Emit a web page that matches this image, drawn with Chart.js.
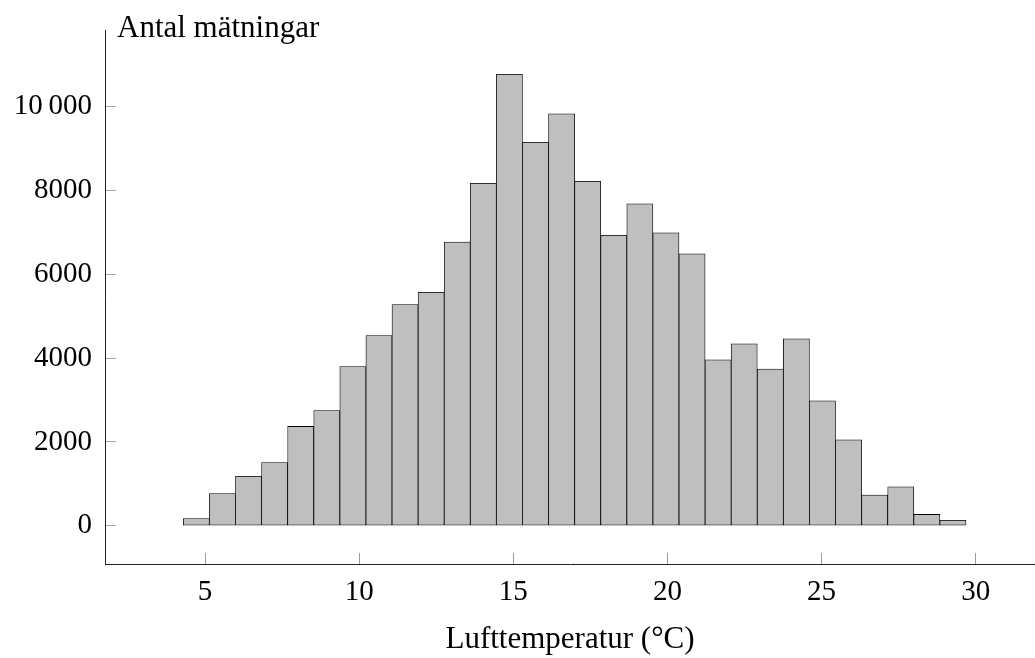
<!DOCTYPE html>
<html lang="sv">
<head>
<meta charset="utf-8">
<title>Lufttemperatur</title>
<script src="https://cdn.jsdelivr.net/npm/chart.js@4.4.1/dist/chart.umd.min.js"></script>
<style>
  html, body { margin: 0; padding: 0; background: #fff; }
  #wrap { width: 1035px; height: 658px; position: relative; }
</style>
</head>
<body>
<div id="wrap"><canvas id="chart"></canvas></div>
<script>
// histogram bins, about 0.846 °C wide, given by their centres
const binCenters = [4.719, 5.565, 6.412, 7.258, 8.104, 8.951, 9.797, 10.643, 11.489, 12.336,
                    13.182, 14.028, 14.875, 15.721, 16.567, 17.414, 18.260, 19.106, 19.952, 20.799,
                    21.645, 22.491, 23.338, 24.184, 25.030, 25.877, 26.723, 27.569, 28.415, 29.262];
const counts = [170, 770, 1180, 1510, 2370, 2750, 3800, 4540, 5280, 5570,
                6770, 8170, 10770, 9150, 9830, 8220, 6930, 7680, 6990, 6490,
                3960, 4340, 3740, 4460, 2980, 2050, 730, 930, 270, 130];

const xTicks = [5, 10, 15, 20, 25, 30];
const yTicks = [0, 2000, 4000, 6000, 8000, 10000];
const xTitle = 'Lufttemperatur (°C)';
const yTitle = 'Antal mätningar';

const FONT = '"Liberation Serif", "Times New Roman", serif';
Chart.defaults.font.family = FONT;
Chart.defaults.font.size = 29;
Chart.defaults.color = '#000';

// y title sits horizontally at the top of the axis, not rotated
const yTitlePlugin = {
  id: 'yTitleTop',
  afterDraw(chart) {
    const { ctx, chartArea } = chart;
    ctx.save();
    ctx.font = '31px ' + FONT;
    ctx.fillStyle = '#000';
    ctx.textAlign = 'left';
    ctx.textBaseline = 'alphabetic';
    ctx.fillText(yTitle, chartArea.left + 12, chartArea.top + 7);
    ctx.restore();
  }
};

function fmt(v) {
  // thousands separator only from five digits up
  return v >= 10000 ? String(v).replace(/\B(?=(\d{3})+(?!\d))/g, '\u2009') : String(v);
}

const ctx = document.getElementById('chart').getContext('2d');
new Chart(ctx, {
  type: 'bar',
  data: {
    datasets: [{
      data: binCenters.map((x, i) => ({ x: x, y: counts[i] })),
      backgroundColor: '#bfbfbf',
      borderColor: '#000',
      borderWidth: 0.8,
      borderSkipped: false,
      barPercentage: 1,
      categoryPercentage: 1
    }]
  },
  options: {
    responsive: true,
    maintainAspectRatio: false,
    animation: false,
    layout: { padding: { top: 30, right: 0, bottom: 0, left: 0 } },
    plugins: { legend: { display: false }, tooltip: { enabled: false } },
    scales: {
      x: {
        type: 'linear',
        min: 1.756,
        max: 31.924,
        offset: false,
        afterBuildTicks: s => { s.ticks = xTicks.map(v => ({ value: v })); },
        afterFit: s => { s.height = 94; s.paddingLeft = 0; s.paddingRight = 0; },
        grid: { offset: false, drawOnChartArea: false, drawTicks: true, tickLength: -11, tickColor: '#999', tickWidth: 1 },
        border: { display: true, color: '#222', width: 1 },
        ticks: { padding: 22, maxRotation: 0, autoSkip: false, font: { size: 29 } },
        title: { display: true, text: xTitle, font: { size: 31 }, padding: { top: 0, bottom: 0 } }
      },
      y: {
        min: -913,
        max: 11829,
        afterBuildTicks: s => { s.ticks = yTicks.map(v => ({ value: v })); },
        afterFit: s => { s.width = 105; s.paddingTop = 0; s.paddingBottom = 0; },
        grid: { drawOnChartArea: false, drawTicks: true, tickLength: -11, tickColor: '#aaa', tickWidth: 1 },
        border: { display: true, color: '#222', width: 1 },
        ticks: { padding: 24, font: { size: 29 }, callback: v => fmt(v) }
      }
    }
  },
  plugins: [yTitlePlugin]
});
</script>
</body>
</html>
